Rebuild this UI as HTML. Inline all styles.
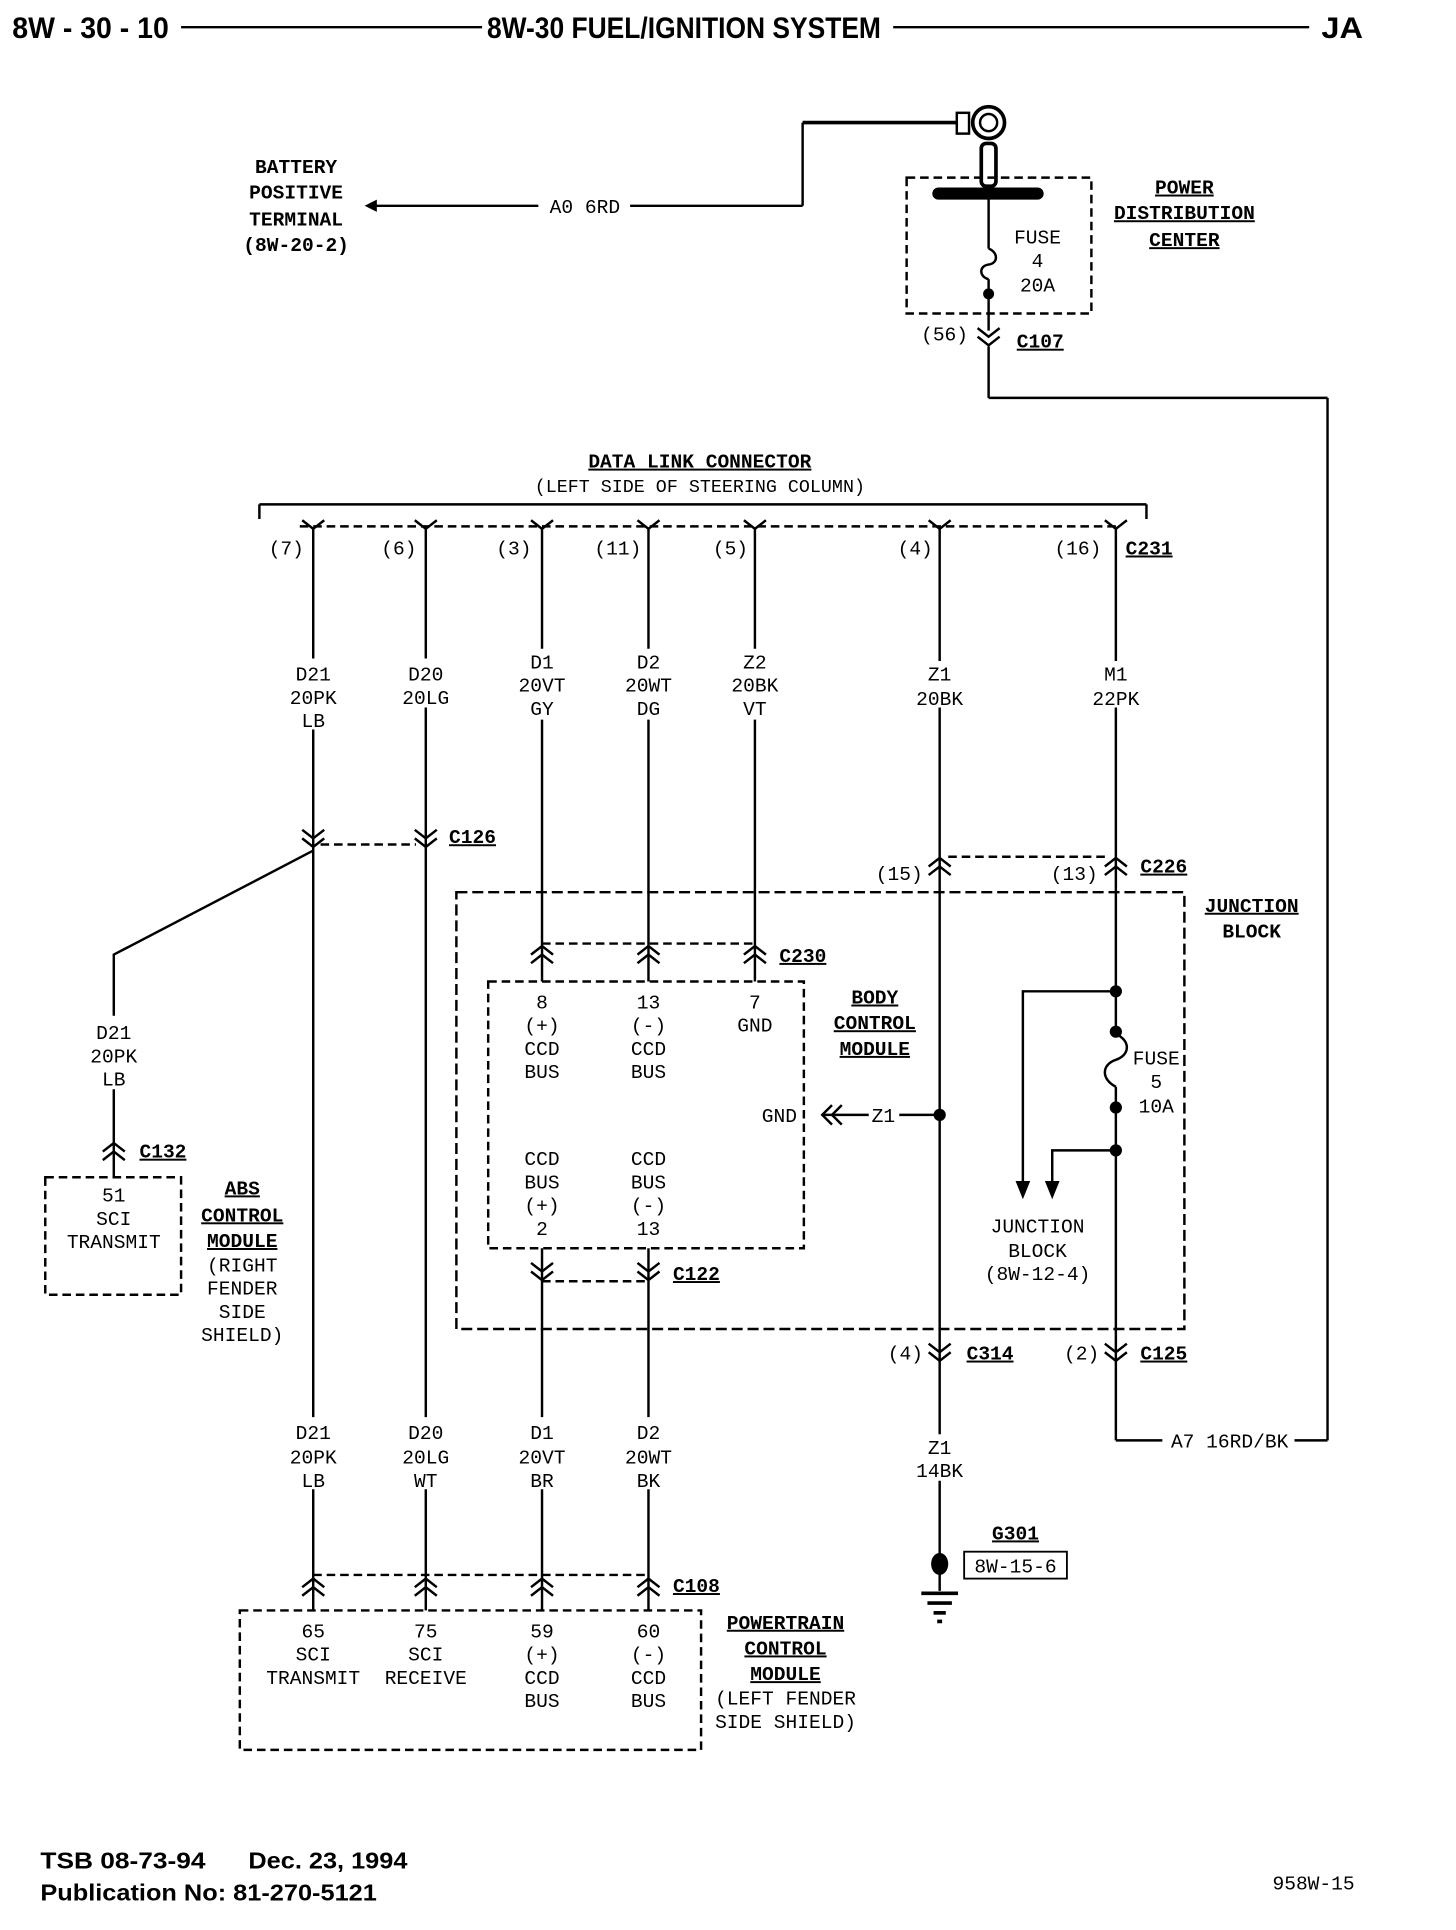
<!DOCTYPE html>
<html><head><meta charset="utf-8"><style>
html,body{margin:0;padding:0;background:#fff;}
svg{display:block;}
text{font-family:"Liberation Mono",monospace;font-size:16px;fill:#000;}
.b{font-weight:bold;font-size:18px;}
.h{font-family:"Liberation Sans",sans-serif;font-weight:bold;font-size:24px;}
.f{font-family:"Liberation Sans",sans-serif;font-weight:bold;font-size:19px;}
.m{text-anchor:middle;}
</style></head><body>
<svg width="1456" height="1930" viewBox="0 0 1190 1577" xmlns="http://www.w3.org/2000/svg">
<defs>
<path id="dn" d="M-9,-8 L0,-1 L9,-8 M-9,-1 L0,6 L9,-1" fill="none" stroke="#000" stroke-width="2"/>
<path id="up" d="M-9,8 L0,1 L9,8 M-9,1 L0,-6 L9,1" fill="none" stroke="#000" stroke-width="2"/>
<path id="yy" d="M-9,-5 L0,2 L9,-5" fill="none" stroke="#000" stroke-width="2"/>
</defs>
<rect width="1190" height="1577" fill="#fff"/>
<!-- header -->
<text class="h" x="10" y="31" textLength="128" lengthAdjust="spacingAndGlyphs">8W - 30 - 10</text>
<line x1="148" y1="22" x2="394" y2="22" stroke="#000" stroke-width="2"/>
<text class="h" x="398" y="31" textLength="322" lengthAdjust="spacingAndGlyphs">8W-30 FUEL/IGNITION SYSTEM</text>
<line x1="730" y1="22" x2="1070" y2="22" stroke="#000" stroke-width="2"/>
<text class="h" x="1080" y="31" textLength="34" lengthAdjust="spacingAndGlyphs">JA</text>

<g stroke="#000" stroke-width="2" fill="none">
<!-- battery -->
<line x1="302" y1="168" x2="440" y2="168"/>
<line x1="515" y1="168" x2="656" y2="168"/>
<line x1="656" y1="168" x2="656" y2="100"/>
<line x1="656" y1="100" x2="782" y2="100" stroke-width="3"/>
<rect x="782" y="92" width="10" height="17"/>
<circle cx="808" cy="100" r="13" stroke-width="3"/>
<circle cx="808" cy="100" r="7"/>
<rect x="802" y="117" width="12" height="35" rx="4" stroke-width="3"/>
<rect x="741" y="145" width="151" height="111" stroke-dasharray="7,4"/>
<line x1="808" y1="160" x2="808" y2="203"/>
<path d="M808,203 C816,206 816,215 808,216 C800,217 800,226 808,228"/>
<line x1="808" y1="228" x2="808" y2="270"/>
<line x1="808" y1="283" x2="808" y2="325"/>
<line x1="808" y1="325" x2="1085" y2="325"/>
<line x1="1085" y1="325" x2="1085" y2="1177"/>
<line x1="1085" y1="1177" x2="1058" y2="1177"/>
<line x1="950" y1="1177" x2="912" y2="1177"/>
<!-- DLC -->
<line x1="212" y1="412" x2="937" y2="412"/>
<line x1="212" y1="412" x2="212" y2="424"/>
<line x1="937" y1="412" x2="937" y2="424"/>
<line x1="245" y1="430" x2="915" y2="430" stroke-dasharray="7,4"/>
<!-- vertical wires -->
<path d="M256,432V538 M256,596V1158 M256,1217V1316"/>
<path d="M348,432V538 M348,578V1158 M348,1217V1316"/>
<path d="M443,432V530 M443,588V802 M443,1020V1158 M443,1217V1316"/>
<path d="M530,432V530 M530,588V802 M530,1020V1158 M530,1217V1316"/>
<path d="M617,432V530 M617,588V802"/>
<path d="M768,432V540 M768,578V1172 M768,1210V1300"/>
<path d="M912,432V540 M912,578V845"/>
<path d="M912,845 C924,850 924,862 912,866 C900,870 900,882 912,888"/>
<path d="M912,888V1177"/>
<!-- C126 -->
<line x1="262" y1="690" x2="340" y2="690" stroke-dasharray="7,4"/>
<path d="M256,695 L93,780 L93,830"/>
<path d="M93,890 L93,962"/>
<!-- ABS -->
<rect x="37" y="962" width="111" height="96" stroke-dasharray="7,4"/>
<!-- C226 -->
<line x1="775" y1="700" x2="905" y2="700" stroke-dasharray="7,4"/>
<rect x="373" y="729" width="595" height="357" stroke-dasharray="9,4"/>
<line x1="443" y1="771" x2="617" y2="771" stroke-dasharray="7,4"/>
<rect x="399" y="802" width="258" height="218" stroke-dasharray="7,4"/>
<line x1="443" y1="1047" x2="530" y2="1047" stroke-dasharray="7,4"/>
<!-- GND -->
<path d="M680,903 L672,911 L680,919 M688,903 L680,911 L688,919"/>
<line x1="672" y1="911" x2="710" y2="911"/>
<line x1="735" y1="911" x2="768" y2="911"/>
<!-- JB branches -->
<path d="M912,810 H836 V968"/>
<path d="M912,940 H860 V968"/>
<!-- G301 -->
<rect x="788" y="1268" width="84" height="22" stroke-width="1.5"/>
<line x1="753" y1="1302" x2="783" y2="1302" stroke-width="3"/>
<line x1="758" y1="1310" x2="778" y2="1310" stroke-width="3"/>
<line x1="763" y1="1318" x2="773" y2="1318" stroke-width="3"/>
<line x1="766" y1="1325" x2="770" y2="1325" stroke-width="3"/>
<!-- C108 -->
<line x1="256" y1="1287" x2="530" y2="1287" stroke-dasharray="7,4"/>
<rect x="196" y="1316" width="377" height="114" stroke-dasharray="7,4"/>
</g>
<polygon points="298,168 308,163 308,173" fill="#000"/>
<rect x="762" y="153" width="91" height="10" rx="5" fill="#000"/>
<circle cx="808" cy="240" r="4.5" fill="#000"/>
<circle cx="768" cy="911" r="5" fill="#000"/>
<circle cx="912" cy="810" r="5" fill="#000"/>
<circle cx="912" cy="843" r="5" fill="#000"/>
<circle cx="912" cy="905" r="5" fill="#000"/>
<circle cx="912" cy="940" r="5" fill="#000"/>
<polygon points="830,965 842,965 836,980" fill="#000"/>
<polygon points="854,965 866,965 860,980" fill="#000"/>
<ellipse cx="768" cy="1278" rx="7" ry="9" fill="#000"/>

<!-- connectors -->
<use href="#dn" x="808" y="276"/>
<use href="#yy" x="256" y="430"/><use href="#yy" x="348" y="430"/><use href="#yy" x="443" y="430"/><use href="#yy" x="530" y="430"/><use href="#yy" x="617" y="430"/><use href="#yy" x="768" y="430"/><use href="#yy" x="912" y="430"/>
<use href="#dn" x="256" y="686"/><use href="#dn" x="348" y="686"/>
<use href="#up" x="93" y="940"/>
<use href="#up" x="768" y="707"/><use href="#up" x="912" y="707"/>
<use href="#up" x="443" y="779"/><use href="#up" x="530" y="779"/><use href="#up" x="617" y="779"/>
<use href="#dn" x="443" y="1040"/><use href="#dn" x="530" y="1040"/>
<use href="#dn" x="768" y="1106"/><use href="#dn" x="912" y="1106"/>
<use href="#up" x="256" y="1296"/><use href="#up" x="348" y="1296"/><use href="#up" x="443" y="1296"/><use href="#up" x="530" y="1296"/>

<!-- bold labels -->
<g class="b m">
<text x="242" y="141">BATTERY</text><text x="242" y="162">POSITIVE</text><text x="242" y="184">TERMINAL</text><text x="242" y="205">(8W-20-2)</text>
<text x="968" y="158" text-decoration="underline">POWER</text><text x="968" y="179" text-decoration="underline">DISTRIBUTION</text><text x="968" y="201" text-decoration="underline">CENTER</text>
<text x="572" y="382" text-decoration="underline">DATA LINK CONNECTOR</text>
<text x="1023" y="745" text-decoration="underline">JUNCTION</text><text x="1023" y="766">BLOCK</text>
<text x="715" y="820" text-decoration="underline">BODY</text><text x="715" y="841" text-decoration="underline">CONTROL</text><text x="715" y="862" text-decoration="underline">MODULE</text>
<text x="198" y="976" text-decoration="underline">ABS</text><text x="198" y="998" text-decoration="underline">CONTROL</text><text x="198" y="1019" text-decoration="underline">MODULE</text>
<text x="642" y="1331" text-decoration="underline">POWERTRAIN</text><text x="642" y="1352" text-decoration="underline">CONTROL</text><text x="642" y="1373" text-decoration="underline">MODULE</text>
<text x="830" y="1258" text-decoration="underline">G301</text>
</g>
<g class="b">
<text x="831" y="284" text-decoration="underline">C107</text>
<text x="920" y="453" text-decoration="underline">C231</text>
<text x="367" y="689" text-decoration="underline">C126</text>
<text x="932" y="713" text-decoration="underline">C226</text>
<text x="637" y="786" text-decoration="underline">C230</text>
<text x="114" y="946" text-decoration="underline">C132</text>
<text x="550" y="1046" text-decoration="underline">C122</text>
<text x="790" y="1111" text-decoration="underline">C314</text>
<text x="932" y="1111" text-decoration="underline">C125</text>
<text x="550" y="1301" text-decoration="underline">C108</text>
</g>

<!-- plain labels -->
<g class="m">
<text x="478" y="174">A0 6RD</text>
<text x="848" y="199">FUSE</text><text x="848" y="218">4</text><text x="848" y="238">20A</text>
<text x="772" y="278">(56)</text>
<text x="572" y="402" style="font-size:15px">(LEFT SIDE OF STEERING COLUMN)</text>
<text x="234" y="453">(7)</text><text x="326" y="453">(6)</text><text x="420" y="453">(3)</text><text x="505" y="453">(11)</text><text x="597" y="453">(5)</text><text x="748" y="453">(4)</text><text x="881" y="453">(16)</text>
<text x="256" y="556">D21</text><text x="256" y="575">20PK</text><text x="256" y="594">LB</text>
<text x="348" y="556">D20</text><text x="348" y="575">20LG</text>
<text x="443" y="546">D1</text><text x="443" y="565">20VT</text><text x="443" y="584">GY</text>
<text x="530" y="546">D2</text><text x="530" y="565">20WT</text><text x="530" y="584">DG</text>
<text x="617" y="546">Z2</text><text x="617" y="565">20BK</text><text x="617" y="584">VT</text>
<text x="768" y="556">Z1</text><text x="768" y="576">20BK</text>
<text x="912" y="556">M1</text><text x="912" y="576">22PK</text>
<text x="735" y="719">(15)</text><text x="878" y="719">(13)</text>
<text x="443" y="824">8</text><text x="443" y="843">(+)</text><text x="443" y="862">CCD</text><text x="443" y="881">BUS</text>
<text x="530" y="824">13</text><text x="530" y="843">(-)</text><text x="530" y="862">CCD</text><text x="530" y="881">BUS</text>
<text x="617" y="824">7</text><text x="617" y="843">GND</text>
<text x="637" y="917">GND</text><text x="722" y="917">Z1</text>
<text x="945" y="870">FUSE</text><text x="945" y="889">5</text><text x="945" y="909">10A</text>
<text x="443" y="952">CCD</text><text x="443" y="971">BUS</text><text x="443" y="990">(+)</text><text x="443" y="1009">2</text>
<text x="530" y="952">CCD</text><text x="530" y="971">BUS</text><text x="530" y="990">(-)</text><text x="530" y="1009">13</text>
<text x="848" y="1007">JUNCTION</text><text x="848" y="1027">BLOCK</text><text x="848" y="1046">(8W-12-4)</text>
<text x="93" y="849">D21</text><text x="93" y="868">20PK</text><text x="93" y="887">LB</text>
<text x="93" y="982">51</text><text x="93" y="1001">SCI</text><text x="93" y="1020">TRANSMIT</text>
<text x="198" y="1039">(RIGHT</text><text x="198" y="1058">FENDER</text><text x="198" y="1077">SIDE</text><text x="198" y="1096">SHIELD)</text>
<text x="740" y="1111">(4)</text><text x="884" y="1111">(2)</text>
<text x="1005" y="1183">A7 16RD/BK</text>
<text x="256" y="1176">D21</text><text x="256" y="1196">20PK</text><text x="256" y="1215">LB</text>
<text x="348" y="1176">D20</text><text x="348" y="1196">20LG</text><text x="348" y="1215">WT</text>
<text x="443" y="1176">D1</text><text x="443" y="1196">20VT</text><text x="443" y="1215">BR</text>
<text x="530" y="1176">D2</text><text x="530" y="1196">20WT</text><text x="530" y="1215">BK</text>
<text x="768" y="1188">Z1</text><text x="768" y="1207">14BK</text>
<text x="830" y="1285">8W-15-6</text>
<text x="256" y="1338">65</text><text x="256" y="1357">SCI</text><text x="256" y="1376">TRANSMIT</text>
<text x="348" y="1338">75</text><text x="348" y="1357">SCI</text><text x="348" y="1376">RECEIVE</text>
<text x="443" y="1338">59</text><text x="443" y="1357">(+)</text><text x="443" y="1376">CCD</text><text x="443" y="1395">BUS</text>
<text x="530" y="1338">60</text><text x="530" y="1357">(-)</text><text x="530" y="1376">CCD</text><text x="530" y="1395">BUS</text>
<text x="642" y="1393">(LEFT FENDER</text><text x="642" y="1412">SIDE SHIELD)</text>
</g>
<!-- footer -->
<text class="f" x="33" y="1527" textLength="135" lengthAdjust="spacingAndGlyphs">TSB 08-73-94</text>
<text class="f" x="203" y="1527" textLength="130" lengthAdjust="spacingAndGlyphs">Dec. 23, 1994</text>
<text class="f" x="33" y="1553" textLength="275" lengthAdjust="spacingAndGlyphs">Publication No:  81-270-5121</text>
<text x="1040" y="1544">958W-15</text>
</svg>
</body></html>
